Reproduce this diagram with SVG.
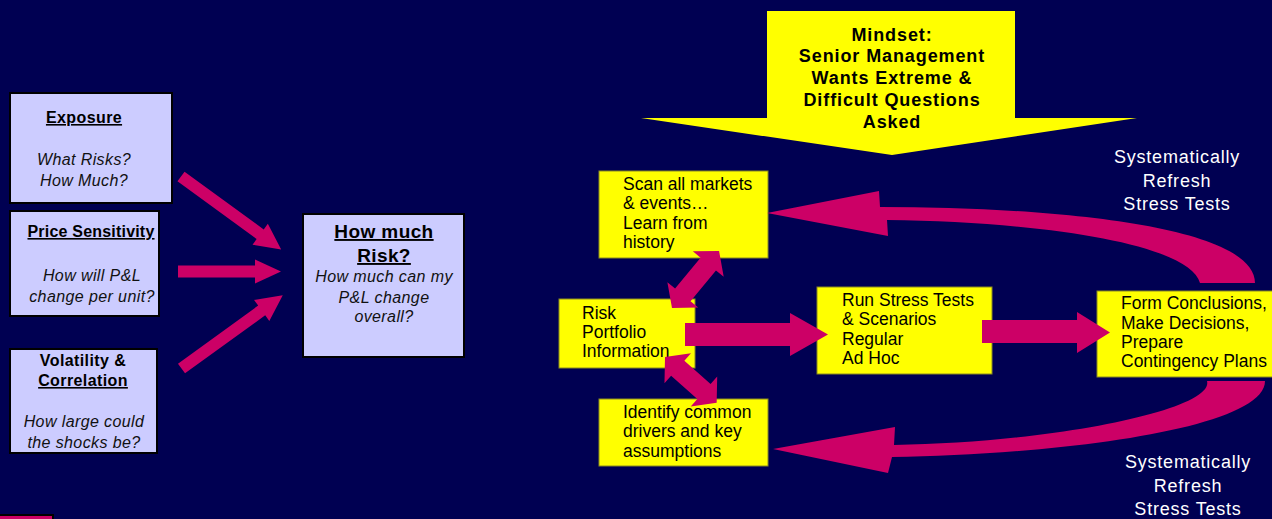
<svg xmlns="http://www.w3.org/2000/svg" width="1272" height="519" viewBox="0 0 1272 519">
<style>
text{font-family:"Liberation Sans",Arial,sans-serif;}
.lav{fill:#CCCCFF;stroke:#000;stroke-width:2;}
.yel{fill:#FFFF00;stroke:#8a8a20;stroke-width:1;}
.pk{fill:#CC0066;}
.hb{font-size:16px;font-weight:bold;fill:#000;text-anchor:middle;letter-spacing:0.4px;}
.it{font-size:16px;font-style:italic;fill:#111;text-anchor:middle;letter-spacing:0.4px;}
.yt{font-size:17.5px;fill:#000;}
.wt{font-size:18px;fill:#fff;text-anchor:middle;letter-spacing:0.8px;}
.mb{font-size:18px;font-weight:bold;fill:#000;text-anchor:middle;letter-spacing:0.9px;}
</style>
<rect x="0" y="0" width="1272" height="519" fill="#000052"/>

<g id="mindset">
<polygon points="767,11 1015,11 1015,118 1137,118 892,155 641,118 767,118" fill="#FFFF00"/>
<text class="mb" x="892" y="41">Mindset:</text>
<text class="mb" x="892" y="62">Senior Management</text>
<text class="mb" x="892" y="84">Wants Extreme &amp;</text>
<text class="mb" x="892" y="106">Difficult Questions</text>
<text class="mb" x="892" y="128">Asked</text>
</g>

<g id="exposure">
<rect class="lav" x="10" y="93" width="162" height="110"/>
<text class="hb" x="84" y="123" text-decoration="underline">Exposure</text>
<text class="it" x="84" y="165">What Risks?</text>
<text class="it" x="84" y="186">How Much?</text>
</g>

<g id="price-sensitivity">
<rect class="lav" x="10" y="211" width="149" height="105"/>
<text class="hb" x="91" y="237" text-decoration="underline" style="letter-spacing:0.2px">Price Sensitivity</text>
<text class="it" x="92" y="281">How will P&amp;L</text>
<text class="it" x="92" y="302">change per unit?</text>
</g>

<g id="volatility">
<rect class="lav" x="10" y="349" width="147" height="104"/>
<text class="hb" x="83" y="366">Volatility &amp;</text>
<text class="hb" x="83" y="386" text-decoration="underline">Correlation</text>
<text class="it" x="84" y="427">How large could</text>
<text class="it" x="84" y="448">the shocks be?</text>
</g>

<g id="how-much-risk">
<rect class="lav" x="303" y="214" width="161" height="143"/>
<text class="hb" x="384" y="238" style="font-size:19px" text-decoration="underline">How much</text>
<text class="hb" x="384" y="262" style="font-size:19px" text-decoration="underline">Risk?</text>
<text class="it" x="384" y="282">How much can my</text>
<text class="it" x="384" y="303">P&amp;L change</text>
<text class="it" x="384" y="322">overall?</text>
</g>

<g id="legend-swatch">
<rect x="-2" y="515" width="55" height="10" fill="#CC0066" stroke="#000" stroke-width="2"/>
</g>

<g id="scan">
<rect class="yel" x="599" y="171" width="169" height="87"/>
<text class="yt" x="623" y="190">Scan all markets</text>
<text class="yt" x="623" y="209">&amp; events…</text>
<text class="yt" x="623" y="229">Learn from</text>
<text class="yt" x="623" y="248">history</text>
</g>

<g id="risk-portfolio">
<rect class="yel" x="559" y="299" width="136" height="69"/>
<text class="yt" x="582" y="319">Risk</text>
<text class="yt" x="582" y="338">Portfolio</text>
<text class="yt" x="582" y="357">Information</text>
</g>

<g id="identify">
<rect class="yel" x="599" y="399" width="169" height="67"/>
<text class="yt" x="623" y="418">Identify common</text>
<text class="yt" x="623" y="437">drivers and key</text>
<text class="yt" x="623" y="457">assumptions</text>
</g>

<g id="run-stress-tests">
<rect class="yel" x="817" y="287" width="175" height="87"/>
<text class="yt" x="842" y="306">Run Stress Tests</text>
<text class="yt" x="842" y="325">&amp; Scenarios</text>
<text class="yt" x="842" y="345">Regular</text>
<text class="yt" x="842" y="364">Ad Hoc</text>
</g>

<g id="form-conclusions">
<rect class="yel" x="1097" y="291" width="180" height="86"/>
<text class="yt" x="1121" y="309">Form Conclusions,</text>
<text class="yt" x="1121" y="329">Make Decisions,</text>
<text class="yt" x="1121" y="348">Prepare</text>
<text class="yt" x="1121" y="367">Contingency Plans</text>
</g>

<g id="refresh-top">
<text class="wt" x="1177" y="163">Systematically</text>
<text class="wt" x="1177" y="187">Refresh</text>
<text class="wt" x="1177" y="210">Stress Tests</text>
</g>

<g id="refresh-bottom">
<text class="wt" x="1188" y="468">Systematically</text>
<text class="wt" x="1188" y="492">Refresh</text>
<text class="wt" x="1188" y="515">Stress Tests</text>
</g>

<g id="connectors">
<path class="pk" transform="translate(181,176.5) rotate(36.1)" d="M0,-6 H98 V-13 L124,0 L98,13 V6 H0 Z"/>
<path class="pk" transform="translate(178,271.5)" d="M0,-6 H77 V-12 L103,0 L77,12 V6 H0 Z"/>
<path class="pk" transform="translate(181.5,368.5) rotate(-35.9)" d="M0,-6 H99 V-13 L125,0 L99,13 V6 H0 Z"/>
<path class="pk" transform="translate(672,308) rotate(-50.5)" d="M0,0 L17,-20 V-10 H57 V-20 L74,0 L57,20 V10 H17 V20 Z"/>
<path class="pk" transform="translate(665,357) rotate(41.5)" d="M0,0 L17,-20 V-10 H52 V-20 L69,0 L52,20 V10 H17 V20 Z"/>
<path class="pk" d="M685,323 H790 V313 L828,334.5 L790,356 V346 H685 Z"/>
<path class="pk" d="M982,320 H1077 V312 L1110,332.5 L1077,353 V343 H982 Z"/>
<path class="pk" d="M767,213 L879,191 L880,207 C1050,207 1255,225 1255,283 L1200,283 C1190,245 1050,222 887,220 L888,236 Z"/>
<path class="pk" d="M773,449 L895,427 L894,445 C1050,443 1215,410 1207,381 L1265,381 C1265,430 1050,455 892,457 L888,473 Z"/>
</g>
</svg>
